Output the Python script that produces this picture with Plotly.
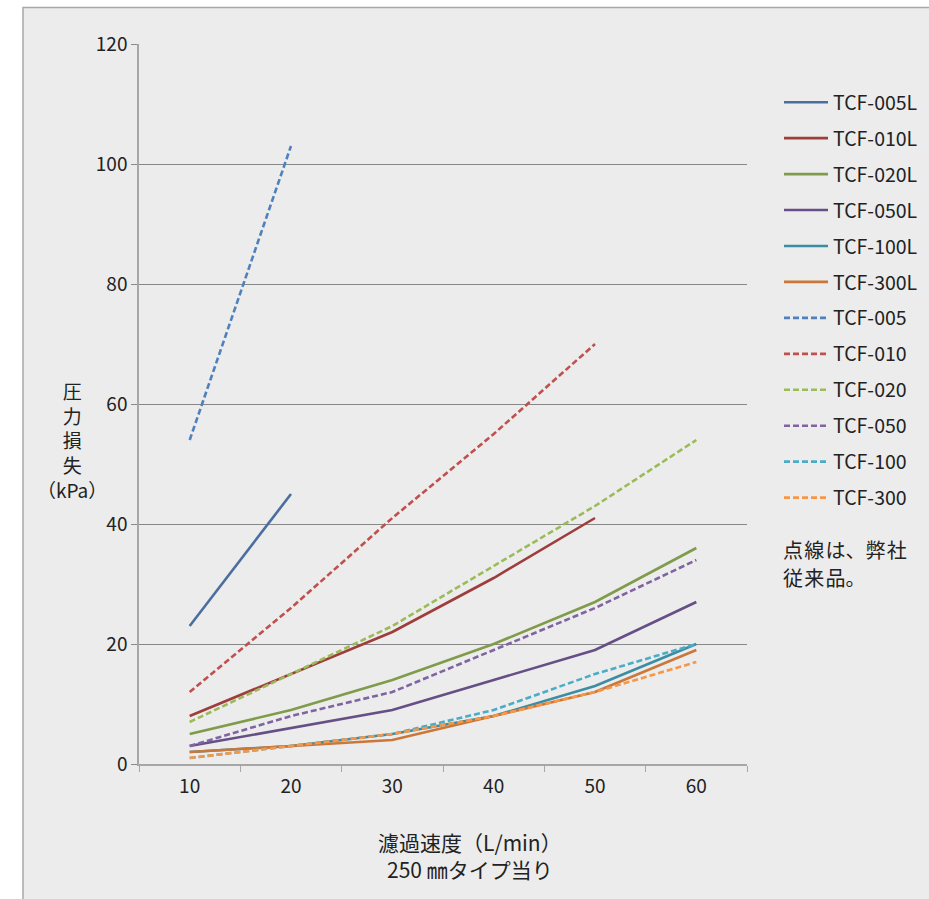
import plotly.graph_objects as go

X_LABELS = ["10", "20", "30", "40", "50", "60"]

TCF_005L = [23, 45]
TCF_010L = [8, 15, 22, 31, 41]
TCF_020L = [5, 9, 14, 20, 27, 36]
TCF_050L = [3, 6, 9, 14, 19, 27]
TCF_100L = [2, 3, 5, 8, 13, 20]
TCF_300L = [2, 3, 4, 8, 12, 19]
TCF_005 = [54, 103]
TCF_010 = [12, 26, 41, 55, 70]
TCF_020 = [7, 15, 23, 33, 43, 54]
TCF_050 = [3, 8, 12, 19, 26, 34]
TCF_100 = [1, 3, 5, 9, 15, 20]
TCF_300 = [1, 3, 5, 8, 12, 17]

SERIES = [
    ("TCF-005L", TCF_005L, "#4A6F9F", "solid"),
    ("TCF-010L", TCF_010L, "#9E3E3B", "solid"),
    ("TCF-020L", TCF_020L, "#7F9B4B", "solid"),
    ("TCF-050L", TCF_050L, "#654F85", "solid"),
    ("TCF-100L", TCF_100L, "#3B8DA3", "solid"),
    ("TCF-300L", TCF_300L, "#CB7739", "solid"),
    ("TCF-005", TCF_005, "#4F81BD", "6px,3px"),
    ("TCF-010", TCF_010, "#C0504D", "6px,3px"),
    ("TCF-020", TCF_020, "#9BBB59", "6px,3px"),
    ("TCF-050", TCF_050, "#8064A2", "6px,3px"),
    ("TCF-100", TCF_100, "#4BACC6", "6px,3px"),
    ("TCF-300", TCF_300, "#F79646", "6px,3px"),
]

FONT = "Noto Sans CJK JP, Noto Sans, sans-serif"
TXT = "#222222"

fig = go.Figure()
for name, vals, color, dash in SERIES:
    fig.add_trace(go.Scatter(
        x=X_LABELS[:len(vals)], y=vals, name=name, mode="lines",
        legendgroup=name,
        line=dict(color=color, width=2.6, dash=dash),
    ))

W, H = 929, 899
L, T = 139, 44
PR, PB = 747, 764
R, B = W - PR, H - PB
pw, ph = PR - L, PB - T


def px_x(p):
    return (p - L) / pw


def px_y(p):
    return (PB - p) / ph


fig.add_shape(type="rect", xref="paper", yref="paper",
              x0=px_x(23), x1=px_x(960), y0=px_y(940), y1=px_y(7.5),
              fillcolor="#ECECEC", line=dict(color="#A8A8A8", width=1.5),
              layer="below")

fig.update_layout(
    width=W, height=H,
    margin=dict(l=L, r=R, t=T, b=B, autoexpand=False),
    paper_bgcolor="white",
    plot_bgcolor="rgba(0,0,0,0)",
    font=dict(family=FONT, size=19, color=TXT),
    showlegend=True,
    legend=dict(
        x=px_x(779), y=px_y(83), xanchor="left", yanchor="top",
        bgcolor="rgba(0,0,0,0)", traceorder="grouped", tracegroupgap=7.6,
        itemwidth=44,
        font=dict(family=FONT, size=19.5, color=TXT),
    ),
    xaxis=dict(
        type="category", categoryorder="array", categoryarray=X_LABELS,
        range=[-0.5, 5.5],
        tickson="boundaries", ticks="outside", ticklen=6, tickcolor="#A6A6A6",
        ticklabelstandoff=4,
        showline=True, linecolor="#A6A6A6", linewidth=1.5,
        showgrid=False, zeroline=False,
        tickfont=dict(size=19, color=TXT),
    ),
    yaxis=dict(
        range=[0, 120], dtick=20, tick0=0,
        ticks="outside", ticklen=6, tickcolor="#888888",
        showline=True, linecolor="#A6A6A6", linewidth=1.5,
        showgrid=True, gridcolor="#888888", gridwidth=1,
        zeroline=False,
        tickfont=dict(size=19, color=TXT),
    ),
    annotations=[
        dict(text="圧<br>力<br>損<br>失<br>（kPa）", xref="paper", yref="paper",
             x=px_x(72), y=px_y(440), xanchor="center", yanchor="middle",
             showarrow=False, font=dict(family=FONT, size=19, color=TXT)),
        dict(text="濾過速度（L/min）<br>250 ㎜タイプ当り", xref="paper", yref="paper",
             x=px_x(470), y=px_y(855), xanchor="center", yanchor="middle",
             showarrow=False, font=dict(family=FONT, size=21, color=TXT)),
        dict(text="点\u200a線\u200aは、弊\u200a社", xref="paper", yref="paper",
             x=px_x(781), y=px_y(549), xanchor="left", yanchor="middle",
             showarrow=False, font=dict(family=FONT, size=20, color=TXT)),
        dict(text="従\u200a来\u200a品。", xref="paper", yref="paper",
             x=px_x(781), y=px_y(577), xanchor="left", yanchor="middle",
             showarrow=False, font=dict(family=FONT, size=20, color=TXT)),
    ],
)

fig.write_html(
    "out.html",
    config={"displayModeBar": False},
    post_script="document.body.style.margin='0';document.body.style.overflow='hidden';",
)
